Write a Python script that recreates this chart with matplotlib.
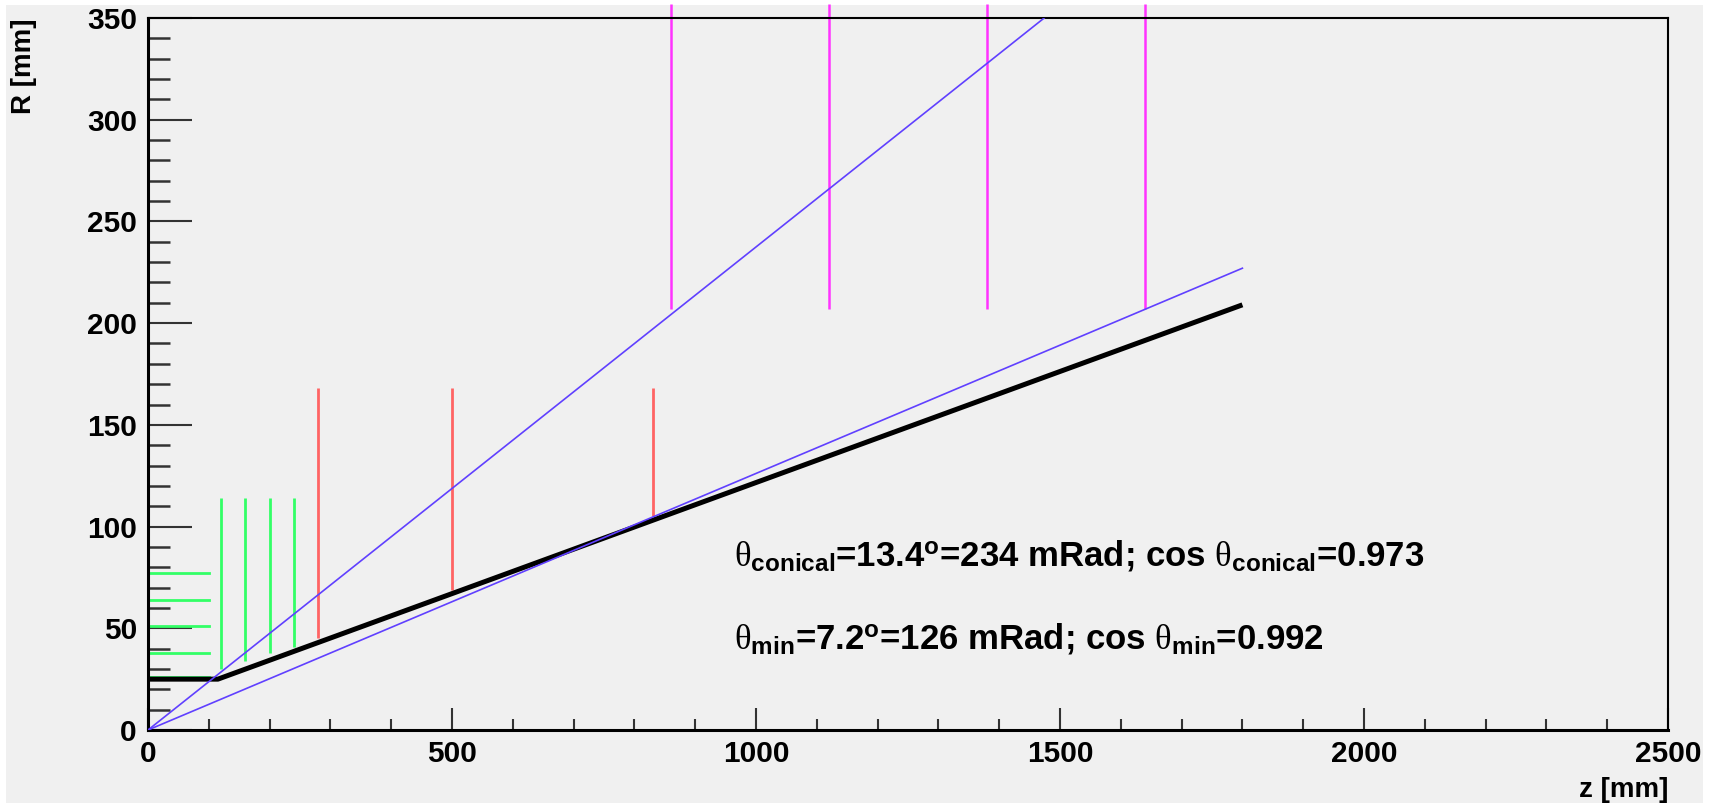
import matplotlib
matplotlib.use("Agg")
import matplotlib.pyplot as plt
from matplotlib.patches import Rectangle
from matplotlib.ticker import MultipleLocator

plt.rcParams["font.family"] = "Liberation Sans"
plt.rcParams["mathtext.fontset"] = "custom"
# theta in a thin serif face, everything else bold sans
plt.rcParams["mathtext.rm"] = "Liberation Serif"
plt.rcParams["mathtext.it"] = "Liberation Serif"
plt.rcParams["mathtext.bf"] = "Liberation Sans:bold"

# --- Data ---
# thick black support line: flat part then cone
black_z = [0, 115, 1800]
black_r = [25, 25, 209]

# blue lines from the origin (theta_conical and theta_min)
blue_hi_z = [0, 1474]
blue_hi_r = [0, 350]
blue_lo_z = [0, 1800]
blue_lo_r = [0, 227]

# green horizontal discs
green_h_r = [26, 38, 51, 64, 77]
green_h_z = [0, 100]

# green vertical discs
green_v_z = [120, 160, 200, 240]
green_v_lo = [30, 34, 38, 41]
green_v_hi = [114, 114, 114, 114]

# red vertical discs
red_z = [280, 500, 830]
red_lo = [45, 69, 105]
red_hi = [168, 168, 168]

# magenta vertical discs
mag_z = [860, 1120, 1380, 1640]
mag_lo = [207, 207, 207, 207]
mag_hi = [357, 357, 357, 357]

label_conical = (r"$\mathrm{\theta}_{\mathbf{conical}}$=13.4$^{\mathbf{o}}$=234 mRad; "
                 r"cos $\mathrm{\theta}_{\mathbf{conical}}$=0.973")
label_min = (r"$\mathrm{\theta}_{\mathbf{min}}$=7.2$^{\mathbf{o}}$=126 mRad; "
             r"cos $\mathrm{\theta}_{\mathbf{min}}$=0.992")

# --- Plot ---
fig = plt.figure(figsize=(17.19, 8.05), dpi=100)
fig.patch.set_facecolor("white")
fig.patches.append(Rectangle((6 / 1719, 1 - 803 / 805), 1697 / 1719, 798 / 805,
                             transform=fig.transFigure, facecolor="#f0f0f0",
                             edgecolor="none", zorder=-10))
ax = fig.add_axes([148 / 1719, 1 - 730 / 805, 1520 / 1719, 712 / 805])
ax.set_facecolor("#f0f0f0")

ax.set_xlim(0, 2500)
ax.set_ylim(0, 350)

for r in green_h_r:
    ax.plot(green_h_z, [r, r], color="#33ff66", lw=2.0, zorder=2)
ax.vlines(green_v_z, green_v_lo, green_v_hi, color="#33ff66", lw=2.0, zorder=2)
ax.vlines(red_z, red_lo, red_hi, color="#ff6464", lw=2.0, zorder=2)
ax.vlines(mag_z, mag_lo, mag_hi, color="#ff33ff", lw=1.8, zorder=2, clip_on=False)

ax.plot(black_z, black_r, color="black", lw=3.6, solid_capstyle="butt", zorder=3)
ax.plot(blue_hi_z, blue_hi_r, color="#6040ff", lw=1.2, zorder=4)
ax.plot(blue_lo_z, blue_lo_r, color="#6040ff", lw=1.2, zorder=4)

ax.text(963, 81, label_conical, fontsize=25, fontweight="bold", va="baseline")
ax.text(963, 40, label_min, fontsize=25, fontweight="bold", va="baseline")

# ROOT-like axes
ax.xaxis.set_major_locator(MultipleLocator(500))
ax.xaxis.set_minor_locator(MultipleLocator(100))
ax.yaxis.set_major_locator(MultipleLocator(50))
ax.yaxis.set_minor_locator(MultipleLocator(10))
ax.tick_params(axis="both", which="both", direction="in", top=False, right=False,
               labelsize=21.5, color="#333333")
ax.tick_params(axis="y", which="major", length=32, width=1.5, pad=8)
ax.tick_params(axis="y", which="minor", length=16, width=1.8)
ax.tick_params(axis="x", which="major", length=16, width=1.5, pad=7)
ax.tick_params(axis="x", which="minor", length=8, width=1.5)
for lab in ax.get_xticklabels() + ax.get_yticklabels():
    lab.set_fontweight("bold")

for side in ["left", "bottom"]:
    ax.spines[side].set_linewidth(2.2)
for side in ["top", "right"]:
    ax.spines[side].set_linewidth(1.5)

ax.set_xlabel("z [mm]", loc="right", fontsize=20, fontweight="bold")
ax.xaxis.set_label_coords(1.0, -0.066)
ax.set_ylabel("R [mm]", loc="top", fontsize=20, fontweight="bold")
ax.yaxis.set_label_coords(-0.073, 1.0)

fig.savefig("out.png", dpi=100, facecolor=fig.get_facecolor())
